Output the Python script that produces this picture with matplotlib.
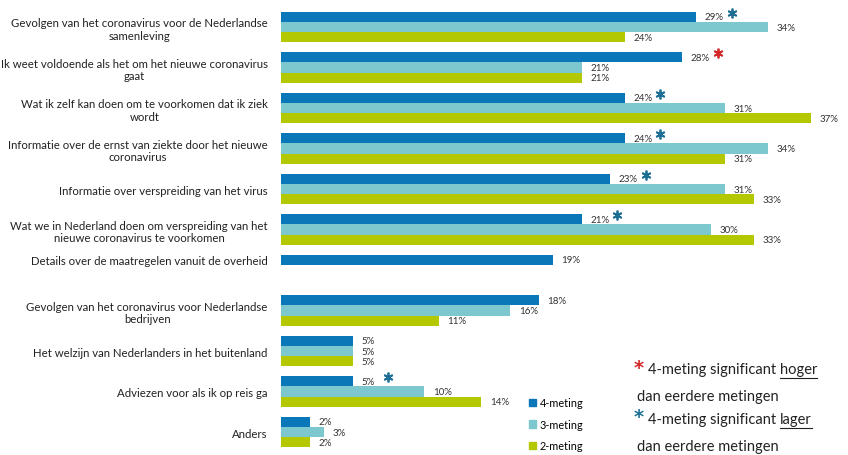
import numpy as np
import matplotlib.pyplot as plt
from matplotlib.patches import Patch

categories = [
    "Gevolgen van het coronavirus voor de Nederlandse\nsamenleving",
    "Ik weet voldoende als het om het nieuwe coronavirus\ngaat",
    "Wat ik zelf kan doen om te voorkomen dat ik ziek\nwordt",
    "Informatie over de ernst van ziekte door het nieuwe\ncoronavirus",
    "Informatie over verspreiding van het virus",
    "Wat we in Nederland doen om verspreiding van het\nnieuwe coronavirus te voorkomen",
    "Details over de maatregelen vanuit de overheid",
    "Gevolgen van het coronavirus voor Nederlandse\nbedrijven",
    "Het welzijn van Nederlanders in het buitenland",
    "Adviezen voor als ik op reis ga",
    "Anders",
]
meting4 = [29, 28, 24, 24, 23, 21, 19, 18, 5, 5, 2]
meting3 = [34, 21, 31, 34, 31, 30, None, 16, 5, 10, 3]
meting2 = [24, 21, 37, 31, 33, 33, None, 11, 5, 14, 2]
# significance of 4-meting vs earlier: 'hoger', 'lager' or None
signif = ["lager", "hoger", "lager", "lager", "lager", "lager", None, None, None, "lager", None]

series_names = ["4-meting", "3-meting", "2-meting"]
colors = ["#0a77b8", "#7dc7ce", "#b3c800"]
star_colors = {"hoger": "#d22a2a", "lager": "#1d6f95"}

W, H = 848, 456
fig = plt.figure(figsize=(W / 100, H / 100), dpi=100)
ax = fig.add_axes([281 / W, 1 - 455.3 / H, 1 - 281 / W, 451.6 / H])

bh = 0.25
offsets = [-bh, 0, bh]
lab_kw = dict(fontsize=7, color="#333333", va="center", family="Lato")

for k, vals in enumerate([meting4, meting3, meting2]):
    for i, v in enumerate(vals):
        if v is None:
            continue
        y = i + offsets[k]
        ax.barh(y, v, height=bh, color=colors[k], edgecolor="none")
        ax.text(v + 0.6, y, f"{v}%", **lab_kw)

for i, s in enumerate(signif):
    if s is None:
        continue
    ax.plot(meting4[i] + 2.5, i - bh - 0.1, marker=(6, 2, 0), ms=7, mew=1.3,
            color=star_colors[s], clip_on=False)

label_y = []
for i in range(len(categories)):
    present = [offsets[k] for k, vals in enumerate([meting4, meting3, meting2]) if vals[i] is not None]
    label_y.append(i + np.mean(present))
ax.set_yticks(label_y, categories, family="Lato", fontsize=8.2, color="#222222")
for t in ax.get_yticklabels():
    t.set_multialignment("center")
ax.tick_params(axis="y", length=0, pad=9.5)
ax.set_xticks([])
ax.set_xlim(0, 39.6)
ax.set_ylim(10.55, -0.6)
for sp in ax.spines.values():
    sp.set_visible(False)

handles = [Patch(color=c) for c in colors]
fig.legend(handles, series_names, loc="upper left", bbox_to_anchor=(524 / W, 1 - 393 / H),
           frameon=False, prop=dict(family="Lato", size=7.8), handlelength=0.65,
           handleheight=0.65, handletextpad=0.3, labelspacing=0.95, borderpad=0)

# significance note on the right
note_kw = dict(family="Lato", fontsize=10.5, color="#222222", va="center")
fig.text(634 / W, 1 - 369 / H, "*", color=star_colors["hoger"], fontsize=14,
         family="DejaVu Sans", fontweight="bold", va="center")
t1 = fig.text(648 / W, 1 - 370 / H, "4-meting significant ", **note_kw)
u1 = fig.text(0, 1 - 370 / H, "hoger", **note_kw)
fig.text(637 / W, 1 - 397 / H, "dan eerdere metingen", **note_kw)
fig.text(634 / W, 1 - 418 / H, "*", color=star_colors["lager"], fontsize=14,
         family="DejaVu Sans", fontweight="bold", va="center")
t2 = fig.text(648 / W, 1 - 420 / H, "4-meting significant ", **note_kw)
u2 = fig.text(0, 1 - 420 / H, "lager", **note_kw)
fig.text(637 / W, 1 - 447 / H, "dan eerdere metingen", **note_kw)

fig.canvas.draw()
r = fig.canvas.get_renderer()
for t, u in [(t1, u1), (t2, u2)]:
    bb = t.get_window_extent(r)
    u.set_x(bb.x1 / W)
    ub = u.get_window_extent(r)
    fig.add_artist(plt.Line2D([ub.x0 / W, ub.x1 / W], [(ub.y0 - 1.5) / H] * 2,
                              color="#222222", lw=0.8))

fig.savefig("out.png", dpi=100)
